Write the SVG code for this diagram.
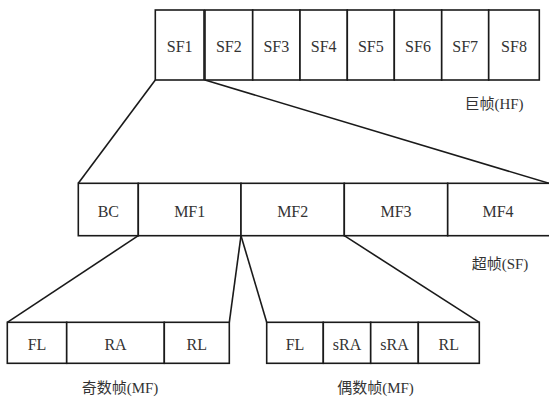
<svg xmlns="http://www.w3.org/2000/svg" width="549" height="400" viewBox="0 0 549 400">
<style>
.b{fill:#fff;stroke:#1a1a1a;stroke-width:1.6}
.c{fill:none;stroke:#1a1a1a;stroke-width:1.6}
</style>
<rect width="549" height="400" fill="#fff"/>
<g id="connectors">
<line class="c" x1="155.3" y1="80" x2="78.3" y2="183.3"/>
<line class="c" x1="205" y1="80" x2="549" y2="183.3"/>
<line class="c" x1="138.3" y1="235.7" x2="7.3" y2="322.3"/>
<line class="c" x1="241" y1="235.7" x2="229.3" y2="322.3"/>
<line class="c" x1="241" y1="235.7" x2="266.7" y2="322.3"/>
<line class="c" x1="344.3" y1="235.7" x2="479.3" y2="322.3"/>
</g>
<g font-family="Liberation Serif, DejaVu Serif, serif" font-size="16" fill="#333" text-anchor="middle">
<g id="hf">
<rect class="b" x="155.3" y="10" width="48.7" height="70"/>
<rect class="b" x="205" y="10" width="47.7" height="70"/>
<rect class="b" x="252.7" y="10" width="47.3" height="70"/>
<rect class="b" x="300" y="10" width="47.3" height="70"/>
<rect class="b" x="347.3" y="10" width="47" height="70"/>
<rect class="b" x="394.3" y="10" width="47.4" height="70"/>
<rect class="b" x="441.7" y="10" width="47" height="70"/>
<rect class="b" x="488.7" y="10" width="50.6" height="70"/>
<text x="179.7" y="52">SF1</text>
<text x="228.8" y="52">SF2</text>
<text x="276.3" y="52">SF3</text>
<text x="323.7" y="52">SF4</text>
<text x="370.8" y="52">SF5</text>
<text x="418" y="52">SF6</text>
<text x="465.2" y="52">SF7</text>
<text x="514" y="52">SF8</text>
<text font-size="15" x="494" y="109"><tspan font-family="Noto Sans CJK SC, sans-serif">巨帧</tspan>(HF)</text>
</g>
<g id="sf">
<rect class="b" x="78.3" y="183.3" width="60" height="52.4"/>
<rect class="b" x="138.3" y="183.3" width="102.7" height="52.4"/>
<rect class="b" x="241" y="183.3" width="103.3" height="52.4"/>
<rect class="b" x="344.3" y="183.3" width="103.4" height="52.4"/>
<rect class="b" x="447.7" y="183.3" width="103" height="52.4"/>
<text x="108.3" y="217">BC</text>
<text x="189.7" y="217">MF1</text>
<text x="292.7" y="217">MF2</text>
<text x="396" y="217">MF3</text>
<text x="498" y="217">MF4</text>
<text font-size="15" x="500" y="269"><tspan font-family="Noto Sans CJK SC, sans-serif">超帧</tspan>(SF)</text>
</g>
<g id="odd">
<rect class="b" x="7.3" y="322.3" width="59.4" height="41"/>
<rect class="b" x="66.7" y="322.3" width="97.6" height="41"/>
<rect class="b" x="164.3" y="322.3" width="65" height="41"/>
<text x="37" y="350">FL</text>
<text x="115.5" y="350">RA</text>
<text x="196.8" y="350">RL</text>
<text font-size="15" x="120" y="393"><tspan font-family="Noto Sans CJK SC, sans-serif">奇数帧</tspan>(MF)</text>
</g>
<g id="even">
<rect class="b" x="266.7" y="322.3" width="56.6" height="41"/>
<rect class="b" x="323.3" y="322.3" width="47.4" height="41"/>
<rect class="b" x="370.7" y="322.3" width="47.6" height="41"/>
<rect class="b" x="418.3" y="322.3" width="61" height="41"/>
<text x="295" y="350">FL</text>
<text x="347" y="350">sRA</text>
<text x="394.5" y="350">sRA</text>
<text x="448.8" y="350">RL</text>
<text font-size="15" x="375.5" y="393"><tspan font-family="Noto Sans CJK SC, sans-serif">偶数帧</tspan>(MF)</text>
</g>
</g>
</svg>
